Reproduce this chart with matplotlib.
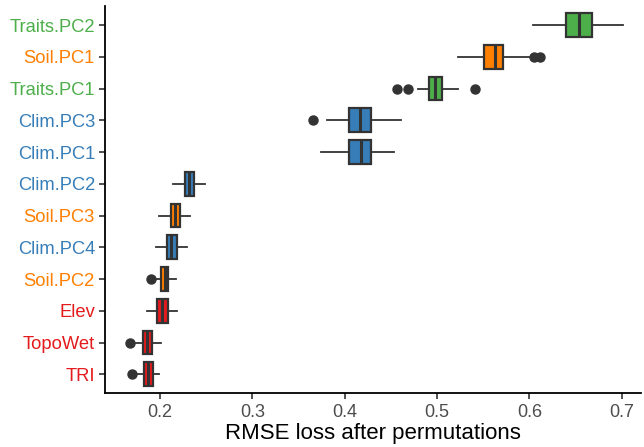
import numpy as np
import matplotlib
matplotlib.use('Agg')
import matplotlib.pyplot as plt

plt.rcParams['font.family'] = ['Liberation Sans', 'DejaVu Sans']

# variables, bottom to top
variables = ['TRI', 'TopoWet', 'Elev', 'Soil.PC2', 'Clim.PC4', 'Soil.PC3',
             'Clim.PC2', 'Clim.PC1', 'Clim.PC3', 'Traits.PC1', 'Soil.PC1', 'Traits.PC2']
groups = ['Topo', 'Topo', 'Topo', 'Soil', 'Clim', 'Soil',
          'Clim', 'Clim', 'Clim', 'Traits', 'Soil', 'Traits']

# box stats
whisk_lo = [0.1754, 0.1740, 0.1859, 0.1949, 0.1953, 0.1990, 0.2138, 0.3744, 0.3806, 0.4799, 0.5225, 0.6034]
q1 = [0.1830, 0.1813, 0.1971, 0.2007, 0.2073, 0.2116, 0.2271, 0.4050, 0.4050, 0.4918, 0.5510, 0.6399]
med = [0.1873, 0.1859, 0.2025, 0.2050, 0.2123, 0.2166, 0.2314, 0.4178, 0.4167, 0.4980, 0.5626, 0.6536]
q3 = [0.1924, 0.1913, 0.2090, 0.2083, 0.2184, 0.2217, 0.2368, 0.4283, 0.4289, 0.5055, 0.5716, 0.6680]
whisk_hi = [0.1993, 0.2011, 0.2180, 0.2170, 0.2289, 0.2325, 0.2487, 0.4535, 0.4608, 0.5232, 0.6027, 0.7013]
outliers = [[0.1697], [0.1675], [], [0.1899], [], [], [], [], [0.3654],
            [0.4570, 0.4687, 0.5416], [0.6052, 0.6117], []]

colores = {'Traits': '#4DAF4A', 'Soil': '#FF7F00', 'Clim': '#377EB8', 'Topo': '#E41A1C'}

stats = []
for i in range(len(variables)):
    stats.append({'whislo': whisk_lo[i], 'q1': q1[i], 'med': med[i], 'q3': q3[i],
                  'whishi': whisk_hi[i], 'fliers': outliers[i], 'label': variables[i]})

fig = plt.figure(figsize=(6.44, 4.47), dpi=100)
ax = fig.add_axes([0.1635, 0.12, 0.832, 0.8666])

gris = '#333333'
bp = ax.bxp(stats, positions=np.arange(1, len(variables) + 1), vert=False, widths=0.75,
            patch_artist=True, showcaps=False,
            boxprops=dict(edgecolor=gris, linewidth=1.6),
            medianprops=dict(color=gris, linewidth=2.2),
            whiskerprops=dict(color=gris, linewidth=1.3),
            flierprops=dict(marker='o', markerfacecolor=gris, markeredgecolor=gris, markersize=6.5))
for caja, g in zip(bp['boxes'], groups):
    caja.set_facecolor(colores[g])

ax.set_xlim(0.1407, 0.721)
ax.set_ylim(0.4, len(variables) + 0.6)
ax.set_xticks([0.2, 0.3, 0.4, 0.5, 0.6, 0.7])
ax.set_xticklabels(['0.2', '0.3', '0.4', '0.5', '0.6', '0.7'])
ax.set_yticks(np.arange(1, len(variables) + 1))
ax.set_yticklabels(variables)
for lab, g in zip(ax.get_yticklabels(), groups):
    lab.set_color(colores[g])
    lab.set_fontsize(13.2)
for lab in ax.get_xticklabels():
    lab.set_color('#4D4D4D')
    lab.set_fontsize(13)

ax.tick_params(axis='both', length=4, width=1.2, color=gris)
ax.tick_params(axis='x', pad=4)
ax.spines['top'].set_visible(False)
ax.spines['right'].set_visible(False)
ax.spines['left'].set_linewidth(1.3)
ax.spines['bottom'].set_linewidth(1.3)
ax.set_xlabel('RMSE loss after permutations', fontsize=16, labelpad=1)

plt.savefig('out.png', dpi=100)
